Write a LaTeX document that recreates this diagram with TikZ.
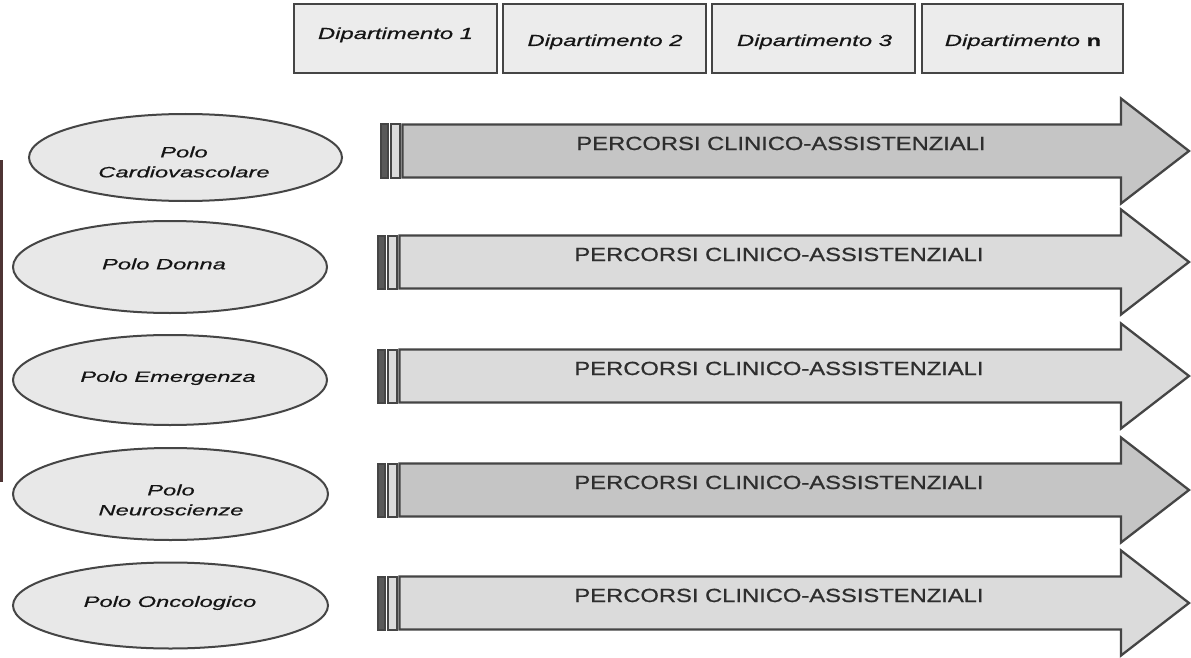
\documentclass[tikz,border=0pt]{standalone}
\usepackage{fontspec}
\setmainfont{Liberation Sans}
\newfontfamily\deptfont[FakeStretch=1.49,FakeBold=0.6]{Liberation Sans}
\newfontfamily\polofont[FakeStretch=1.58,FakeBold=0.6]{Liberation Sans}
\newfontfamily\arrowfont[FakeStretch=1.25,FakeBold=0.8]{Liberation Sans}
\usetikzlibrary{shapes.geometric}
\definecolor{edgecol}{HTML}{454545}
\definecolor{boxfill}{HTML}{ECECEC}
\definecolor{polofill}{HTML}{E8E8E8}
\definecolor{darkarrow}{HTML}{C5C5C5}
\definecolor{lightarrow}{HTML}{DBDBDB}
\definecolor{txtcol}{HTML}{151515}
\definecolor{arrowtxt}{HTML}{2E2E2E}
\definecolor{stripcol}{HTML}{4E3434}
\tikzset{
  deptbox/.style={draw=edgecol, line width=2.5pt, fill=boxfill, minimum height=69pt, inner sep=0pt},
  depttext/.style={inner sep=0pt, text=txtcol, font=\deptfont\itshape\fontsize{16}{19}\selectfont},
  polo/.style={ellipse, draw=edgecol, line width=2pt, fill=polofill, inner sep=0pt},
  polotext/.style={inner sep=0pt, align=center, text=txtcol, font=\polofont\itshape\fontsize{15}{20}\selectfont},
  arrowline/.style={draw=edgecol, line width=2.3pt, line join=miter},
  barline/.style={draw=edgecol, line width=2pt},
  arrowtext/.style={inner sep=0pt, text=arrowtxt, font=\arrowfont\fontsize{19}{22}\selectfont}
}
\newcommand\percorso[5]{%
  \draw[arrowline, fill=#4] (#3+22.5,#2-26.5) -- (1121,#2-26.5) -- (1121,#2-52.5) -- (1189,#2) -- (1121,#2+52.5) -- (1121,#2+26.5) -- (#3+22.5,#2+26.5) -- cycle;
  \draw[barline, fill=gray!70!black] (#3+1,#2-26.5) rectangle (#3+8,#2+26.5);
  \draw[barline, fill=lightarrow] (#3+10.5,#2-26.5) rectangle (#3+19.5,#2+26.5);
  \node[arrowtext, anchor=base] (#1) at (#5,#2-1) {PERCORSI CLINICO-ASSISTENZIALI};
}
\begin{document}
\begin{tikzpicture}[x=1pt,y=-1pt]
\useasboundingbox (0,0) rectangle (1191,658);
\fill[white] (0,0) rectangle (1191,658);
% left strip
\fill[stripcol] (0,160) rectangle (2.5,482);
% department boxes
\node[deptbox, minimum width=203pt] (d1) at (395.5,38.5) {};
\node[deptbox, minimum width=203pt] (d2) at (604.5,38.5) {};
\node[deptbox, minimum width=203pt] (d3) at (813.5,38.5) {};
\node[deptbox, minimum width=201pt] (dn) at (1022.5,38.5) {};
\node[depttext, anchor=base] (t1) at (395.5,39) {Dipartimento 1};
\node[depttext, anchor=base] (t2) at (605,46) {Dipartimento 2};
\node[depttext, anchor=base] (t3) at (814.5,46) {Dipartimento 3};
\node[depttext, anchor=base] (tn) at (1023,46) {Dipartimento {\upshape\bfseries n}};
% poles
\node[polo, minimum width=313pt, minimum height=87pt] (p1) at (185.5,157.5) {};
\node[polo, minimum width=314pt, minimum height=92pt] (p2) at (170,267) {};
\node[polo, minimum width=314pt, minimum height=90pt] (p3) at (170,380) {};
\node[polo, minimum width=315pt, minimum height=92pt] (p4) at (170.5,494) {};
\node[polo, minimum width=315pt, minimum height=86pt] (p5) at (170.5,605.5) {};
\node[polotext] (l1) at (184,162) {Polo\\Cardiovascolare};
\node[polotext] (l2) at (164,264) {Polo Donna};
\node[polotext] (l3) at (168,378) {Polo Emergenza};
\node[polotext] (l4) at (171,500) {Polo\\Neuroscienze};
\node[polotext] (l5) at (170,603) {Polo Oncologico};
% arrows
\percorso{a1}{151}{380}{darkarrow}{781}
\percorso{a2}{262}{377}{lightarrow}{779}
\percorso{a3}{376}{377}{lightarrow}{779}
\percorso{a4}{490}{377}{darkarrow}{779}
\percorso{a5}{603}{377}{lightarrow}{779}
\end{tikzpicture}
\end{document}
